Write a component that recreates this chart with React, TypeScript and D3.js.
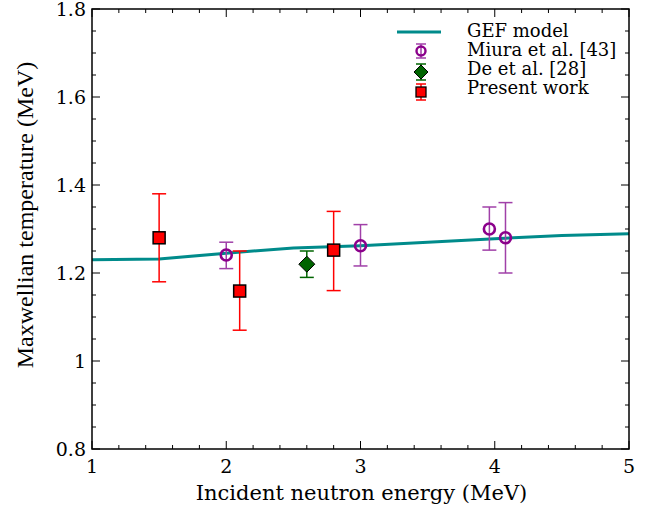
import React from "react";
import * as d3 from "d3";

const gefE = [1, 1.5, 2, 2.5, 3, 3.5, 4, 4.5, 5];
const gefT = [1.23, 1.232, 1.245, 1.257, 1.262, 1.27, 1.278, 1.285, 1.289];

const miuraE = [2.0, 3.0, 3.96, 4.08];
const miuraT = [1.241, 1.262, 1.30, 1.28];
const miuraLo = [1.21, 1.216, 1.252, 1.20];
const miuraHi = [1.27, 1.31, 1.35, 1.36];

const deE = [2.6];
const deT = [1.22];
const deLo = [1.19];
const deHi = [1.25];

const presE = [1.5, 2.1, 2.8];
const presT = [1.28, 1.159, 1.252];
const presLo = [1.18, 1.07, 1.16];
const presHi = [1.38, 1.25, 1.34];

const xTicks = [1, 2, 3, 4, 5];
const yTicks = [0.8, 1, 1.2, 1.4, 1.6, 1.8];
const legendLabels = ["GEF model", "Miura et al. [43]", "De et al. [28]", "Present work"];

const W = 646, H = 508;
const L = 92, R = 629, T = 9, B = 449;

export default function App() {
  const x = d3.scaleLinear().domain([1, 5]).range([L, R]);
  const y = d3.scaleLinear().domain([0.8, 1.8]).range([B, T]);
  const line = d3.line<number>().x((d, i) => x(gefE[i])).y((d) => y(d));
  const xMinor = d3.range(1, 5.0001, 0.2);
  const yMinor = d3.range(0.8, 1.8001, 0.05);
  const wideSerif = { fontFamily: "'DejaVu Serif', serif" };
  const timesSerif = { fontFamily: "'Liberation Serif', 'Times New Roman', serif" };
  const purple = "#8b008b";
  const purpleErr = "#a040a8";
  const red = "#ff0000";
  const green = "#006400";

  const errBar = (xv: number, lo: number, hi: number, color: string, key: string, cap = 7) => (
    <g key={key} stroke={color} strokeWidth={1.5}>
      <line x1={x(xv)} x2={x(xv)} y1={y(lo)} y2={y(hi)} />
      <line x1={x(xv) - cap} x2={x(xv) + cap} y1={y(lo)} y2={y(lo)} />
      <line x1={x(xv) - cap} x2={x(xv) + cap} y1={y(hi)} y2={y(hi)} />
    </g>
  );

  const legX = 421;
  const legY = [32, 51, 72, 92];
  const legBase = [37, 56, 75, 94];

  return (
    <svg width={W} height={H} style={{ position: "absolute", left: 0, top: 0 }}>
      <rect width={W} height={H} fill="white" />
      <path d={line(gefT) || ""} fill="none" stroke="#008b8b" strokeWidth={3} />
      {presE.map((e, i) => errBar(e, presLo[i], presHi[i], red, "pe" + i))}
      {presE.map((e, i) => (
        <rect key={"ps" + i} x={x(e) - 6} y={y(presT[i]) - 6} width={12} height={12} fill={red} stroke="#000" strokeWidth={1.5} />
      ))}
      {deE.map((e, i) => errBar(e, deLo[i], deHi[i], green, "de" + i))}
      {deE.map((e, i) => (
        <path key={"ds" + i} d={`M${x(e)},${y(deT[i]) - 8}L${x(e) + 8},${y(deT[i])}L${x(e)},${y(deT[i]) + 8}L${x(e) - 8},${y(deT[i])}Z`} fill={green} stroke="#000" strokeWidth={1} />
      ))}
      {miuraE.map((e, i) => errBar(e, miuraLo[i], miuraHi[i], purpleErr, "me" + i))}
      {miuraE.map((e, i) => (
        <circle key={"ms" + i} cx={x(e)} cy={y(miuraT[i])} r={5.5} fill="none" stroke={purple} strokeWidth={2.6} />
      ))}
      <rect x={L} y={T} width={R - L} height={B - T} fill="none" stroke="#000" strokeWidth={1.5} />
      {xMinor.map((v, i) => {
        const major = Math.abs(v - Math.round(v)) < 1e-6;
        const len = major ? 8 : 4;
        return (
          <g key={"xt" + i} stroke="#000" strokeWidth={1}>
            <line x1={x(v)} x2={x(v)} y1={B} y2={B - len} />
            <line x1={x(v)} x2={x(v)} y1={T} y2={T + len} />
          </g>
        );
      })}
      {yMinor.map((v, i) => {
        const major = Math.abs(v * 5 - Math.round(v * 5)) < 1e-6;
        const len = major ? 8 : 4;
        return (
          <g key={"yt" + i} stroke="#000" strokeWidth={1}>
            <line x1={L} x2={L + len} y1={y(v)} y2={y(v)} />
            <line x1={R} x2={R - len} y1={y(v)} y2={y(v)} />
          </g>
        );
      })}
      {xTicks.map((v) => (
        <text key={"xl" + v} x={x(v)} y={B + 24} textAnchor="middle" style={wideSerif} fontSize={19}>{String(v)}</text>
      ))}
      {yTicks.map((v) => (
        <text key={"yl" + v} x={L - 6} y={y(v) + 6.5} textAnchor="end" style={wideSerif} fontSize={19}>{String(v)}</text>
      ))}
      <text x={(L + R) / 2 + 1} y={500} textAnchor="middle" style={wideSerif} fontSize={21}>Incident neutron energy (MeV)</text>
      <text transform={`translate(33,215) rotate(-90)`} textAnchor="middle" style={timesSerif} fontSize={24}>Maxwellian temperature (MeV)</text>
      <line x1={legX - 24} x2={legX + 20} y1={legY[0]} y2={legY[0]} stroke="#008b8b" strokeWidth={3} />
      <g stroke={purpleErr} strokeWidth={1.5}>
        <line x1={legX} x2={legX} y1={legY[1] - 7} y2={legY[1] + 7} />
        <line x1={legX - 5} x2={legX + 5} y1={legY[1] - 7} y2={legY[1] - 7} />
        <line x1={legX - 5} x2={legX + 5} y1={legY[1] + 7} y2={legY[1] + 7} />
      </g>
      <circle cx={legX} cy={legY[1]} r={4.5} fill="none" stroke={purple} strokeWidth={2.4} />
      <g stroke={green} strokeWidth={1.5}>
        <line x1={legX} x2={legX} y1={legY[2] - 8} y2={legY[2] + 8} />
        <line x1={legX - 5} x2={legX + 5} y1={legY[2] - 8} y2={legY[2] - 8} />
        <line x1={legX - 5} x2={legX + 5} y1={legY[2] + 8} y2={legY[2] + 8} />
      </g>
      <path d={`M${legX},${legY[2] - 7}L${legX + 7},${legY[2]}L${legX},${legY[2] + 7}L${legX - 7},${legY[2]}Z`} fill={green} stroke="#000" strokeWidth={1} />
      <g stroke={red} strokeWidth={1.5}>
        <line x1={legX} x2={legX} y1={legY[3] - 8} y2={legY[3] + 8} />
        <line x1={legX - 5} x2={legX + 5} y1={legY[3] - 8} y2={legY[3] - 8} />
        <line x1={legX - 5} x2={legX + 5} y1={legY[3] + 8} y2={legY[3] + 8} />
      </g>
      <rect x={legX - 5} y={legY[3] - 5} width={10} height={10} fill={red} stroke="#000" strokeWidth={1.3} />
      {legendLabels.map((s, i) => (
        <text key={"lg" + i} x={467} y={legBase[i]} style={wideSerif} fontSize={18}>{s}</text>
      ))}
    </svg>
  );
}
